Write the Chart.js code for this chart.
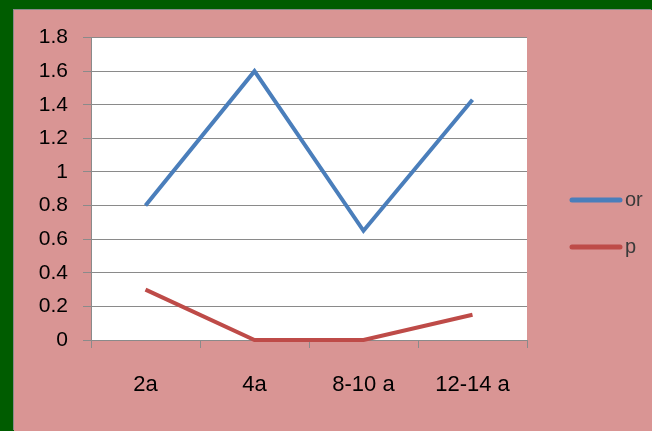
<!DOCTYPE html>
<html>
<head>
<meta charset="utf-8">
<script src="https://cdn.jsdelivr.net/npm/chart.js@4"></script>
<style>
  html, body { margin: 0; padding: 0; }
  body { width: 652px; height: 431px; background: #005c00; overflow: hidden; position: relative; }
  #marco { position: absolute; left: 14px; top: 10px; width: 638px; height: 421px; background: #d99594; box-shadow: -1px -1px 0 #8a8a8a; }
  #grafico { display: block; }
</style>
</head>
<body>
<div id="marco"><canvas id="grafico" width="638" height="421"></canvas></div>
<script>
const categorias = ['2a', '4a', '8-10 a', '12-14 a'];
const serieOr = [0.8, 1.6, 0.65, 1.43];
const serieP = [0.3, 0, 0, 0.15];
const etiquetasY = ['0', '0.2', '0.4', '0.6', '0.8', '1', '1.2', '1.4', '1.6', '1.8'];

const fuente = "'Liberation Sans Narrow', 'Liberation Sans', Arial, sans-serif";

// fondo blanco del area de trazado
const fondoArea = {
  id: 'fondoArea',
  beforeDraw(chart) {
    const { ctx, chartArea } = chart;
    ctx.save();
    ctx.fillStyle = '#ffffff';
    ctx.fillRect(chartArea.left, chartArea.top, chartArea.right - chartArea.left, chartArea.bottom - chartArea.top);
    ctx.restore();
  }
};

// leyenda a la derecha
const leyenda = {
  id: 'leyenda',
  afterDraw(chart) {
    const { ctx } = chart;
    ctx.save();
    ctx.font = '20px ' + fuente;
    ctx.textBaseline = 'middle';
    chart.data.datasets.forEach((ds, i) => {
      const y = 190 + i * 47;
      ctx.strokeStyle = ds.borderColor;
      ctx.lineWidth = 5;
      ctx.lineCap = 'round';
      ctx.beginPath();
      ctx.moveTo(558, y);
      ctx.lineTo(606, y);
      ctx.stroke();
      ctx.fillStyle = '#3a3a3a';
      ctx.fillText(ds.label, 611, y);
    });
    ctx.restore();
  }
};

new Chart(document.getElementById('grafico'), {
  type: 'line',
  data: {
    labels: categorias,
    datasets: [
      { label: 'or', data: serieOr, borderColor: '#4a7ebb', borderWidth: 4, pointRadius: 0, tension: 0, clip: false },
      { label: 'p', data: serieP, borderColor: '#be4b48', borderWidth: 4, pointRadius: 0, tension: 0, clip: false }
    ]
  },
  options: {
    responsive: false,
    animation: false,
    layout: { padding: { left: 0, top: 27, right: 125, bottom: 0 } },
    plugins: { legend: { display: false }, tooltip: { enabled: false } },
    scales: {
      x: {
        offset: true,
        grid: { offset: true, drawOnChartArea: false, color: '#8a8a8a', tickLength: 8 },
        border: { color: '#8a8a8a' },
        ticks: { color: '#000', font: { family: fuente, size: 22 }, padding: 24 },
        afterFit(scale) { scale.height = 91; }
      },
      y: {
        min: 0,
        max: 1.8,
        grid: { color: '#8a8a8a', tickLength: 8 },
        border: { color: '#8a8a8a' },
        ticks: {
          stepSize: 0.2,
          color: '#000',
          font: { family: fuente, size: 21 },
          padding: 15,
          callback: (v, i) => etiquetasY[i]
        },
        afterFit(scale) { scale.width = 77; }
      }
    }
  },
  plugins: [fondoArea, leyenda]
});
</script>
</body>
</html>
